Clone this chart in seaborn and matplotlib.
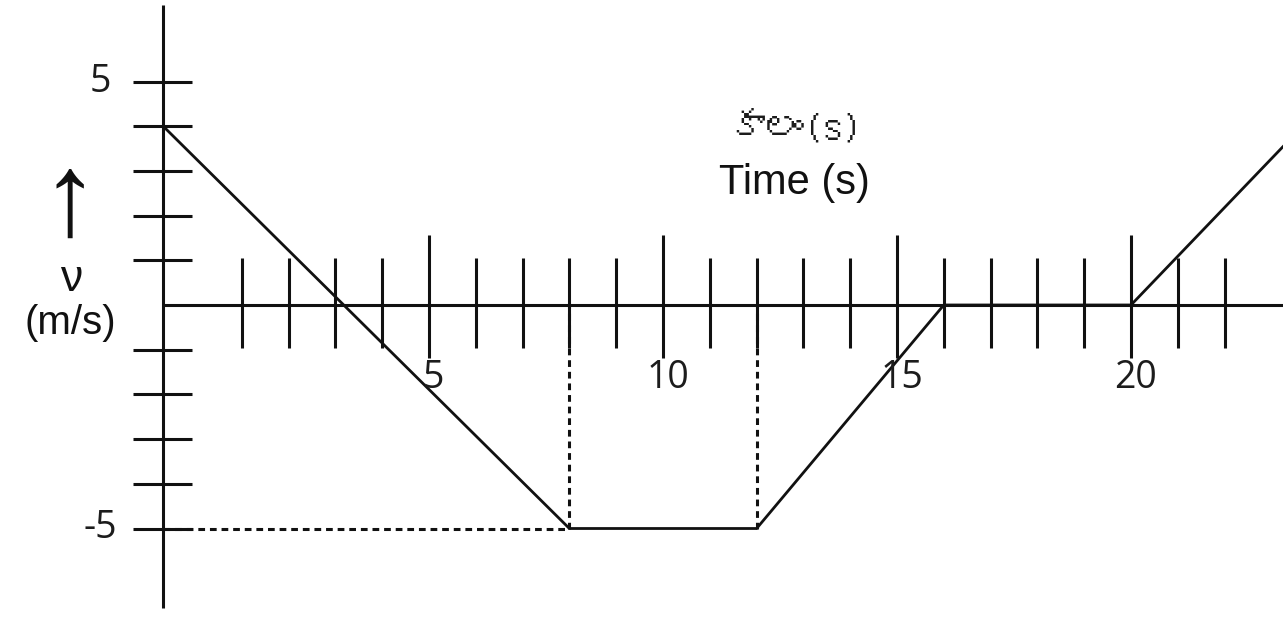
import matplotlib
matplotlib.use("Agg")
import matplotlib.pyplot as plt
import seaborn as sns
import pandas as pd
from matplotlib import font_manager

# ---- data ----
time_s = [-0.68, 8, 12, 16, 20, 23.3]
velocity = [4, -5, -5, 0, 0, 3.6]
x_ticks_minor = [1, 2, 3, 4, 6, 7, 8, 9, 11, 12, 13, 14, 16, 17, 18, 19, 21, 22]
x_ticks_major = [5, 10, 15, 20]
x_tick_labels = ["5", "10", "15", "20"]
y_ticks = [-5, -4, -3, -2, -1, 1, 2, 3, 4, 5]
y_label_values = [5, -5]
y_label_texts = ["5", "-5"]
dash_times = [8, 12]
dash_velocity = -5
title_te = "కాలం(s)"
title_en = "Time (s)"

sns.set_style("white")
plt.rcParams["font.family"] = ["Liberation Sans", "DejaVu Sans"]


def find_font(ch):
    try:
        from fontTools.ttLib import TTFont
    except Exception:
        return None
    for f in font_manager.fontManager.ttflist:
        try:
            tt = TTFont(f.fname, fontNumber=0, lazy=True)
            cmap = tt.getBestCmap()
            if cmap and ord(ch) in cmap:
                return f.name
        except Exception:
            pass
    return None


te_font = find_font("క")
te_family = ([te_font] if te_font else []) + ["DejaVu Serif", "DejaVu Sans"]

# pixel geometry of the reference (origin px 195,305; 46.8 px per s, 44.7 px per m/s)
W, H = 1283, 617
px_t, x0 = 46.8, 195
px_v, y0 = 44.7, 305

fig = plt.figure(figsize=(W / 100, H / 100), dpi=100)
ax = fig.add_axes([0, 0, 1, 1])
ax.set_axis_off()
ax.set_xlim(-x0 / px_t, (W - x0) / px_t)
ax.set_ylim(-(H - y0) / px_v, y0 / px_v)

axis_t = time_s[0]
ink = "#111111"
lw_axis = 2.2

# axes
ax.vlines(axis_t, -6.78, 6.71, color=ink, lw=lw_axis)
ax.hlines(0, axis_t, 24, color=ink, lw=lw_axis)
# ticks
ax.hlines(y_ticks, -1.325, -0.064, color=ink, lw=lw_axis)
ax.vlines(x_ticks_minor, -0.96, 1.05, color=ink, lw=lw_axis)
ax.vlines(x_ticks_major, -1.19, 1.57, color=ink, lw=lw_axis)

# dashed guides
dash = (0, (2.2, 1.6))
ax.hlines(dash_velocity, axis_t, dash_times[0], color=ink, lw=2.2, linestyles=[dash])
ax.vlines(dash_times, dash_velocity, 0, color=ink, lw=2.2, linestyles=[dash])

# the v-t line
df = pd.DataFrame({"t": time_s, "v": velocity})
sns.lineplot(data=df, x="t", y="v", ax=ax, color=ink, lw=2.0, sort=False,
             estimator=None)
ax.set_axis_off()

# tick labels
for v, s in zip(y_label_values, y_label_texts):
    ax.text(-2.03, v, s, ha="center", va="center", fontsize=27,
            family=["Open Sans", "DejaVu Sans"], color="#1c1c1c")
for t, s in zip(x_ticks_major, x_tick_labels):
    ax.text(t + 0.1, -1.63, s, ha="center", va="center", fontsize=27,
            family=["Open Sans", "DejaVu Sans"], color="#1c1c1c")

# axis names
ax.text(-2.67, 2.26, "↑", ha="center", va="center", fontsize=84,
        family=["Liberation Sans", "DejaVu Sans"], color=ink)
ax.text(-2.65, 0.56, "ν", ha="center", va="center", fontsize=32, color=ink)
ax.text(-2.67, -0.40, "(m/s)", ha="center", va="center", fontsize=29, color=ink)

ax.text(12.8, 3.98, title_te, ha="center", va="center", fontsize=28,
        family=te_family, color="#1c1c1c")
ax.text(12.8, 2.73, title_en, ha="center", va="center", fontsize=30, color=ink)

fig.savefig("out.png", dpi=100, facecolor="white")
